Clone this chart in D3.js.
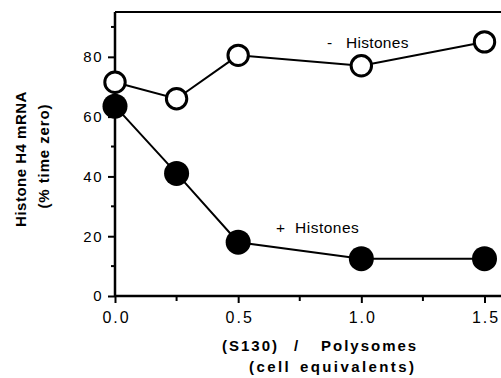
<!DOCTYPE html>
<html>
<head>
<meta charset="utf-8">
<script src="https://cdn.jsdelivr.net/npm/d3@7"></script>
<style>
  body { margin: 0; background: #fff; }
  text { font-family: "Liberation Sans", Arial, sans-serif; fill: #000; }
</style>
</head>
<body>
<div id="plotDiv"></div>
<script>
var cellEquiv = [0, 0.25, 0.5, 1.0, 1.5];
var minusHistones = [71.5, 66, 80.5, 77, 85];
var plusHistones = [63.5, 41, 18, 12.5, 12.5];
var xTickLabels = ["0.0", "0.5", "1.0", "1.5"];
var yTickValues = [0, 20, 40, 60, 80];

var widthSVG = 501, heightSVG = 378;
var margin = {top: 12, right: 0, bottom: 82, left: 115};

var svg = d3.select('#plotDiv')
    .append('svg')
    .attr('width', widthSVG)
    .attr('height', heightSVG);

var x = d3.scaleLinear()
    .domain([0, 1.5])
    .range([margin.left, 484.5]);

var y = d3.scaleLinear()
    .domain([0, 95])
    .range([296, margin.top]);

// frame top line (no right edge in the original)
svg.append('line')
    .attr('x1', margin.left).attr('x2', widthSVG)
    .attr('y1', y(95)).attr('y2', y(95))
    .attr('stroke', '#000')
    .attr('stroke-width', 2);

// x axis
var xAxis = svg.append('g')
    .attr('transform', 'translate(0,' + y(0) + ')')
    .call(d3.axisBottom(x)
        .tickValues([0, 0.5, 1.0, 1.5])
        .tickFormat(function(d, i) { return xTickLabels[i]; })
        .tickSize(7)
        .tickPadding(9));
xAxis.append('g').selectAll('line')
    .data([0.25, 0.75, 1.25])
    .enter().append('line')
    .attr('x1', x).attr('x2', x)
    .attr('y1', 0).attr('y2', 5)
    .attr('stroke', '#000')
    .attr('stroke-width', 2);

// y axis
var yAxis = svg.append('g')
    .attr('transform', 'translate(' + margin.left + ',0)')
    .call(d3.axisLeft(y)
        .tickValues(yTickValues)
        .tickSize(7)
        .tickPadding(5));
yAxis.append('g').selectAll('line')
    .data([10, 30, 50, 70, 90])
    .enter().append('line')
    .attr('y1', y).attr('y2', y)
    .attr('x1', 0).attr('x2', -4)
    .attr('stroke', '#000')
    .attr('stroke-width', 2);

svg.selectAll('.domain')
    .attr('stroke-width', 2.5);
svg.selectAll('.tick line')
    .attr('stroke-width', 2);
xAxis.selectAll('.tick text')
    .attr('font-size', 16)
    .attr('dx', '1px')
    .style('letter-spacing', '2px')
    .attr('font-family', '"Liberation Sans", Arial, sans-serif');
yAxis.selectAll('.tick text')
    .attr('font-size', 15)
    .style('letter-spacing', '1.5px')
    .attr('font-family', '"Liberation Sans", Arial, sans-serif');
xAxis.select('.domain').attr('d', 'M' + x(0) + ',0H' + widthSVG);
yAxis.select('.domain').attr('d', 'M0,' + y(0) + 'V' + y(95));

var line = d3.line()
    .x(function(d, i) { return x(cellEquiv[i]); })
    .y(function(d) { return y(d); });

svg.append('path')
    .datum(minusHistones)
    .attr('d', line)
    .attr('fill', 'none')
    .attr('stroke', '#000')
    .attr('stroke-width', 2);

svg.append('path')
    .datum(plusHistones)
    .attr('d', line)
    .attr('fill', 'none')
    .attr('stroke', '#000')
    .attr('stroke-width', 2);

svg.append('g').selectAll('circle')
    .data(plusHistones)
    .enter().append('circle')
    .attr('cx', function(d, i) { return x(cellEquiv[i]); })
    .attr('cy', y)
    .attr('r', 12.5)
    .attr('fill', '#000');

svg.append('g').selectAll('circle')
    .data(minusHistones)
    .enter().append('circle')
    .attr('cx', function(d, i) { return x(cellEquiv[i]); })
    .attr('cy', y)
    .attr('r', 10.2)
    .attr('fill', '#fff')
    .attr('stroke', '#000')
    .attr('stroke-width', 3);

// series labels
var minusLbl = svg.append('text')
    .attr('y', 48)
    .attr('font-size', 15.5)
    .style('letter-spacing', '0.3px');
minusLbl.append('tspan').attr('x', 327).text('-');
minusLbl.append('tspan').attr('x', 346).text('Histones');

var plusLbl = svg.append('text')
    .attr('y', 233)
    .attr('font-size', 15.5)
    .style('letter-spacing', '0.5px');
plusLbl.append('tspan').attr('x', 276).text('+');
plusLbl.append('tspan').attr('x', 295).text('Histones');

// x axis title
var xt1 = svg.append('text')
    .attr('y', 351)
    .attr('font-size', 15)
    .attr('font-weight', 'bold')
    .style('letter-spacing', '2px');
xt1.append('tspan').attr('x', 222).text('(S130)');
xt1.append('tspan').attr('x', 294).text('/');
xt1.append('tspan').attr('x', 321).text('Polysomes');

var xt2 = svg.append('text')
    .attr('y', 371.5)
    .attr('font-size', 15)
    .attr('font-weight', 'bold')
    .style('letter-spacing', '2.4px');
xt2.append('tspan').attr('x', 249).text('(cell');
xt2.append('tspan').attr('x', 300).text('equivalents)');

// y axis title
svg.append('text')
    .attr('transform', 'translate(26,159) rotate(-90)')
    .attr('text-anchor', 'middle')
    .attr('font-size', 15)
    .attr('font-weight', 'bold')
    .style('letter-spacing', '0.5px')
    .text('Histone H4 mRNA');
svg.append('text')
    .attr('transform', 'translate(49,156) rotate(-90)')
    .attr('text-anchor', 'middle')
    .attr('font-size', 15)
    .attr('font-weight', 'bold')
    .style('letter-spacing', '0.9px')
    .text('(% time zero)');
</script>
</body>
</html>
